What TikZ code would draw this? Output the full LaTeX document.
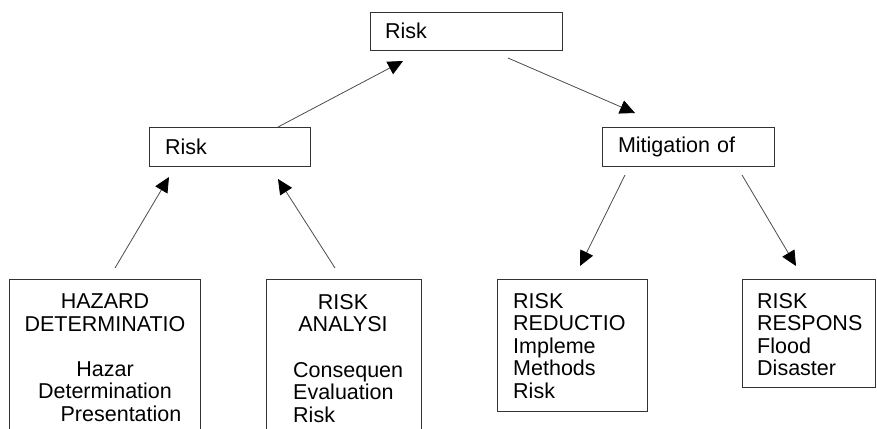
\documentclass[tikz,border=0pt]{standalone}
\usepackage{fontspec}
\setmainfont{Liberation Sans}
\usetikzlibrary{arrows.meta}
\begin{document}
\begin{tikzpicture}[x=1pt,y=-1pt,
  box/.style={draw=black!80, line width=0.9pt, fill=white, font=\fontsize{21.5}{22.5}\selectfont, align=left, inner ysep=0pt},
  txt/.style={inner sep=0pt, font=\fontsize{21.5}{22.5}\selectfont},
  arr/.style={draw=black!70, line width=0.8pt, -{Triangle[length=15pt,width=14pt,color=black,fill=black]}}]
\clip (0,0) rectangle (877,428);
\fill[white] (0,0) rectangle (877,428);
% upper boxes
\node[box, minimum width=192pt, minimum height=38pt, text width=162pt, inner xsep=15pt] (top) at (466,31) {Risk};
\node[box, minimum width=161pt, minimum height=39pt, text width=129pt, inner xsep=16pt] (lrisk) at (229.5,146.5) {Risk};
\node[box, minimum width=172pt, minimum height=39pt, text width=140pt, inner xsep=16pt] (mit) at (688,146.5) {Mitigation of};
% lower boxes
\node[box, minimum width=191pt, minimum height=170pt, inner sep=0pt] (haz) at (104.5,364) {};
\node[box, minimum width=155pt, minimum height=170pt, inner sep=0pt] (ana) at (343.5,364) {};
\node[box, minimum width=150pt, minimum height=132pt, inner sep=0pt] (red) at (572,345) {};
\node[box, minimum width=133pt, minimum height=108pt, inner sep=0pt] (res) at (808.5,333) {};
% texts in lower boxes
\node[txt, anchor=north, align=center] (hazt) at (105,294) {HAZARD\\DETERMINATIO\\[22.5pt]Hazar\\Determination\\\hspace*{32pt}Presentation};
\node[txt, anchor=north, align=center] (anat1) at (343,294) {RISK\\ANALYSI};
\node[txt, anchor=north west, align=left] (anat2) at (293,362) {Consequen\\Evaluation\\Risk};
\node[txt, anchor=north west, align=left] (redt) at (513,293) {RISK\\REDUCTIO\\Impleme\\Methods\\Risk};
\node[txt, anchor=north west, align=left] (rest) at (757,293) {RISK\\RESPONS\\Flood\\Disaster};
% connector ends
\coordinate (s1) at (278,127);   \coordinate (t1) at (403,61);
\coordinate (s2) at (508,58);    \coordinate (t2) at (635,113);
\coordinate (s3) at (115,268);   \coordinate (t3) at (169,177);
\coordinate (s4) at (335,268);   \coordinate (t4) at (278,179);
\coordinate (s5) at (625,175);   \coordinate (t5) at (580,266);
\coordinate (s6) at (742,175);   \coordinate (t6) at (796,266);
\draw[arr] (s1) -- (t1);
\draw[arr] (s2) -- (t2);
\draw[arr] (s3) -- (t3);
\draw[arr] (s4) -- (t4);
\draw[arr] (s5) -- (t5);
\draw[arr] (s6) -- (t6);
\end{tikzpicture}
\end{document}
